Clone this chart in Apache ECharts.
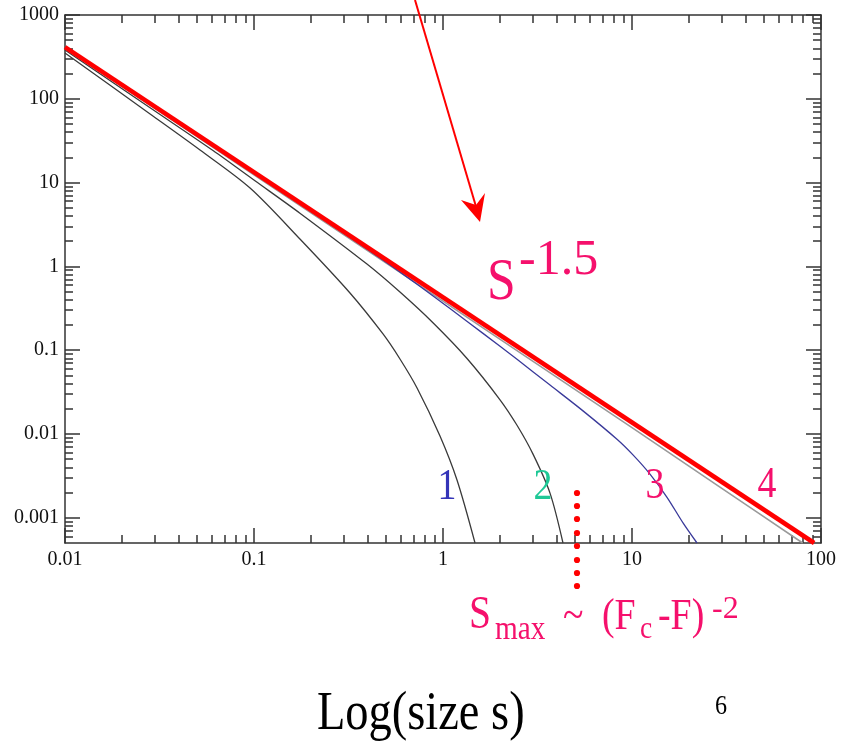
<!DOCTYPE html>
<html>
<head>
<meta charset="utf-8">
<script src="https://cdn.jsdelivr.net/npm/echarts@6/dist/echarts.min.js"></script>
<style>
  html, body { margin: 0; padding: 0; background: #fff; }
  #chart { width: 845px; height: 746px; }
</style>
</head>
<body>
<div id="chart"></div>
<script>
// Cluster-size distributions on log-log axes, four driving levels plus the s^-1.5 power law.
const xTickLabels = [0.01, 0.1, 1, 10, 100];
const yTickLabels = [0.001, 0.01, 0.1, 1, 10, 100, 1000];

const curve1Size = [0.01, 0.0282, 0.0518, 0.0953, 0.175, 0.322, 0.4815, 0.592, 0.729, 0.964, 1.186, 1.477];
const curve1Freq = [352, 65.9, 24.5, 8.62, 2.123, 0.4817, 0.1561, 0.0785, 0.0354, 0.00946, 0.00282, 0.0005];

const curve2Size = [0.01, 0.0282, 0.0607, 0.1012, 0.175, 0.396, 0.592, 0.885, 1.34, 2.003, 2.464, 2.994, 3.683, 4.314];
const curve2Freq = [382, 78.1, 24.1, 10.5, 4.31, 1.065, 0.4935, 0.2123, 0.0796, 0.0256, 0.0127, 0.00575, 0.00197, 0.0005];

const curve3Size = [0.01, 0.1, 0.2433, 0.4642, 0.729, 1.089, 1.628, 2.464, 3.683, 5.505, 8.329, 10.12, 12.45, 15.32, 18.62, 22.08];
const curve3Freq = [404, 12.95, 3.40, 1.263, 0.6114, 0.3135, 0.1587, 0.0779, 0.03834, 0.01887, 0.00865, 0.00563, 0.00332, 0.001757, 0.000869, 0.0005];

const curve4Size = [0.01, 0.1, 1, 10, 30, 80];
const curve4Freq = [403, 12.4, 0.385, 0.0119, 0.00223, 0.0005];

const powerLawSize = [0.01, 92];
const powerLawFreq = [415, 0.0005];

const X_MIN = 0.01, X_MAX = 100;
const Y_MIN = 0.0005, Y_MAX = 1000;

function zip(xs, ys) { return xs.map((x, i) => [x, ys[i]]); }

// minor tick values 2..9 within each decade of [lo, hi]
function minorTicks(lo, hi) {
  const out = [];
  for (let e = Math.floor(Math.log10(lo)); e < Math.ceil(Math.log10(hi)); e++) {
    for (let k = 2; k <= 9; k++) {
      const v = +(k * Math.pow(10, e)).toPrecision(6);
      if (v > lo && v < hi) out.push(v);
    }
  }
  return out;
}

const FONT = '"Liberation Serif", "Times New Roman", serif';
const AXIS_COLOR = '#333';

function buildAxes(min, max, majors, minors, sides, labelMargin) {
  const axes = [];
  sides.forEach((pos, i) => {
    axes.push({
      type: 'log', logBase: 10, min: min, max: max, position: pos,
      axisLine: { show: true, onZero: false, lineStyle: { color: AXIS_COLOR, width: 1.5 } },
      axisTick: { show: true, inside: true, length: 15, customValues: majors, lineStyle: { color: AXIS_COLOR, width: 1.5 } },
      axisLabel: {
        show: i === 0, customValues: majors, margin: labelMargin,
        formatter: v => String(v),
        fontFamily: FONT, fontSize: 20, color: '#111'
      },
      splitLine: { show: false }
    });
    axes.push({
      type: 'log', logBase: 10, min: min, max: max, position: pos,
      axisLine: { show: false },
      axisTick: { show: true, inside: true, length: 8, customValues: minors, lineStyle: { color: AXIS_COLOR, width: 1.5 } },
      axisLabel: { show: false },
      splitLine: { show: false }
    });
  });
  return axes;
}

function curve(name, xs, ys, color, width, z) {
  return {
    name: name, type: 'line', xAxisIndex: 0, yAxisIndex: 0,
    data: zip(xs, ys), showSymbol: false, symbol: 'none',
    smooth: 0.3, z: z,
    lineStyle: { color: color, width: width },
    emphasis: { disabled: true }
  };
}

const PINK = '#f5106c';

function label(text, x, y, size, color, align, sx) {
  return {
    type: 'text', x: x, y: y, scaleX: sx === undefined ? 0.86 : sx, z: 100,
    style: { text: text, fontFamily: FONT, fontSize: size, fill: color, align: align || 'left', verticalAlign: 'middle' }
  };
}

const dots = [493, 506, 519, 533, 546, 560, 573, 586].map(y => ({
  type: 'circle', z: 100, shape: { cx: 577, cy: y, r: 3.1 }, style: { fill: '#ff0000' }
}));

const chart = echarts.init(document.getElementById('chart'), null, { renderer: 'canvas' });
chart.setOption({
  animation: false,
  backgroundColor: '#fff',
  grid: { left: 65, right: 24, top: 15, bottom: 203, outerBoundsMode: 'none', containLabel: false },
  xAxis: buildAxes(X_MIN, X_MAX, xTickLabels, minorTicks(X_MIN, X_MAX), ['bottom', 'top'], 7),
  yAxis: buildAxes(Y_MIN, Y_MAX, yTickLabels, minorTicks(Y_MIN, Y_MAX), ['left', 'right'], 6),
  series: [
    curve('4', curve4Size, curve4Freq, '#9a9a9a', 1.6, 2),
    curve('1', curve1Size, curve1Freq, '#3a3a3a', 1.3, 3),
    curve('2', curve2Size, curve2Freq, '#3a3a3a', 1.3, 3),
    curve('3', curve3Size, curve3Freq, '#3a3a9a', 1.3, 4),
    curve('s^-1.5', powerLawSize, powerLawFreq, '#ff0000', 4.5, 5)
  ],
  graphic: [
    // pointer arrow
    { type: 'line', z: 100, shape: { x1: 415, y1: 0, x2: 477, y2: 210 }, style: { stroke: '#ff0000', lineWidth: 2 } },
    { type: 'polygon', z: 100, shape: { points: [[480, 222], [461, 200], [476, 205], [485, 193]] }, style: { fill: '#ff0000' } },
    label('S', 487, 283, 60, PINK),
    label('-1.5', 519, 261, 50, PINK, 'left', 1),
    label('1', 447, 487, 44, '#3434b8', 'center'),
    label('2', 543, 487, 44, '#1ec896', 'center'),
    label('3', 655, 486, 44, PINK, 'center'),
    label('4', 767, 485, 44, PINK, 'center'),
    label('S', 469, 616, 46, PINK),
    label('max', 495, 630, 34, PINK),
    label('~', 563, 617, 44, PINK),
    label('(F', 602, 617, 44, PINK),
    label('c', 640, 630, 32, PINK),
    label('-F)', 658, 617, 44, PINK),
    label('-2', 712, 610, 32, PINK, 'left', 1),
    label('Log(size s)', 317, 715, 54, '#000'),
    label('6', 721, 707, 28, '#000', 'center')
  ].concat(dots)
});
</script>
</body>
</html>
